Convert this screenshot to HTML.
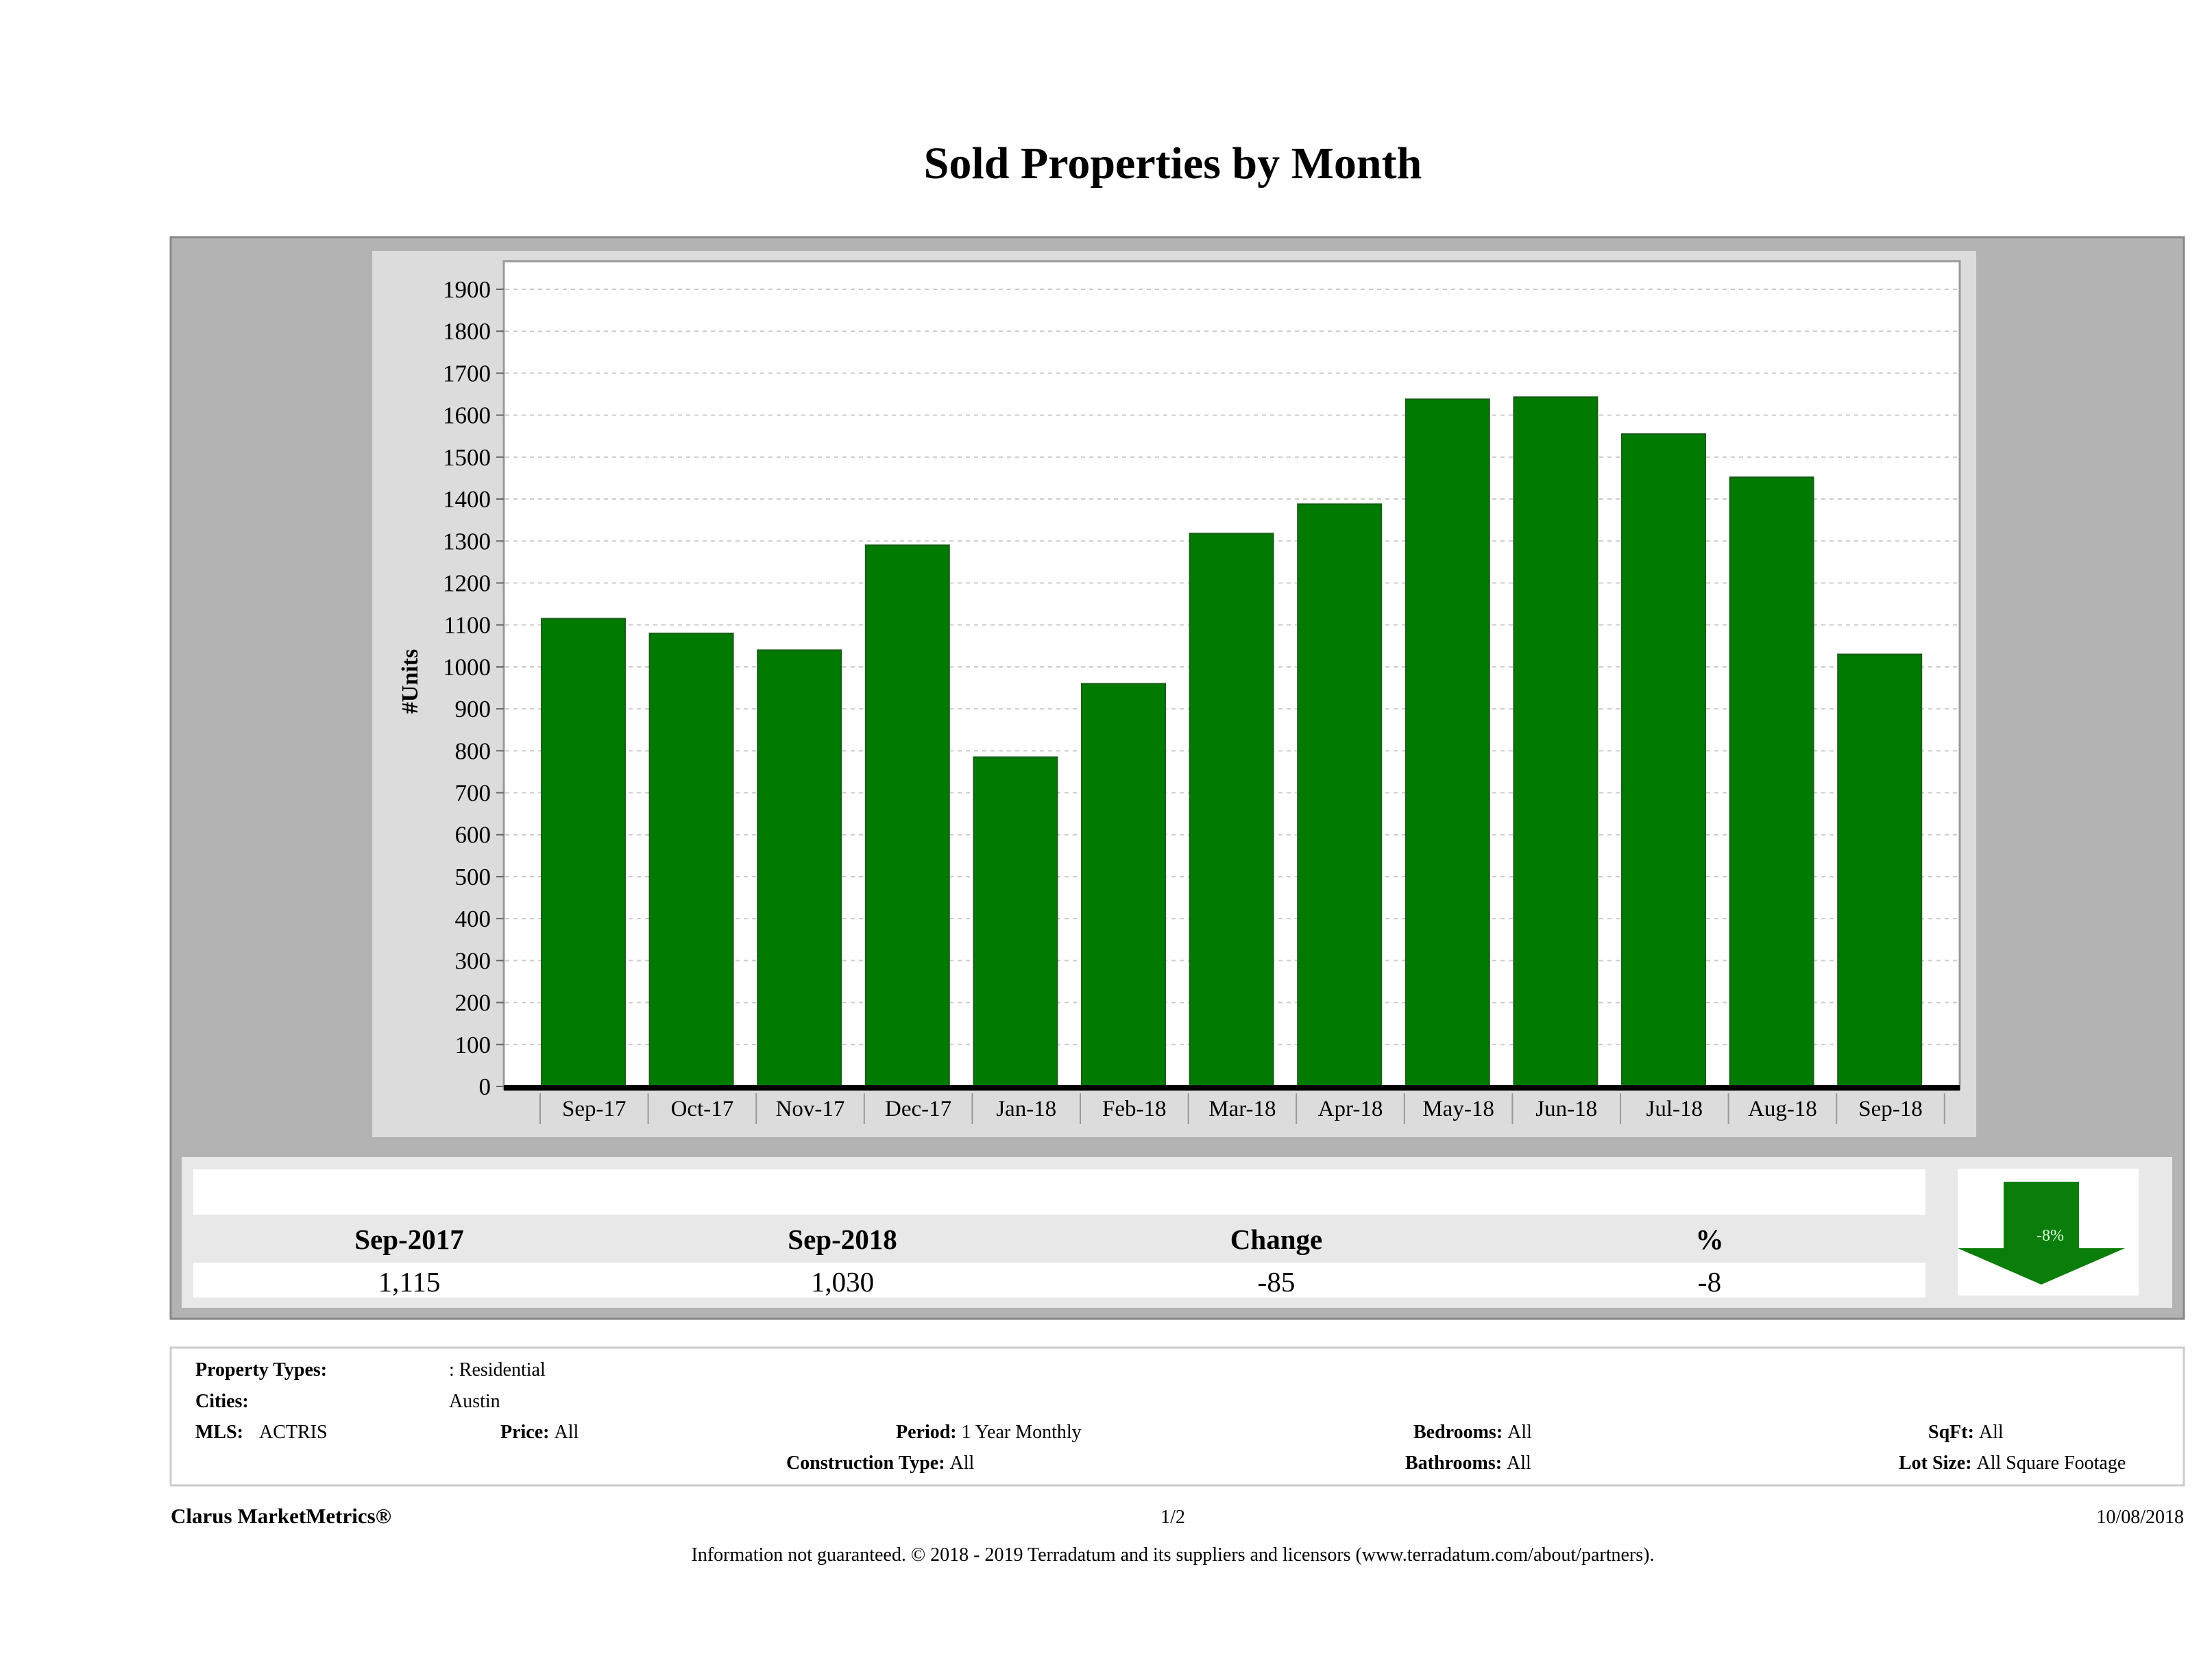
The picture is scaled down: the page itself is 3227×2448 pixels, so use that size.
<!DOCTYPE html>
<html><head><meta charset="utf-8"><style>
html,body{margin:0;padding:0;background:#fff;}
svg{display:block;font-family:"Liberation Serif",serif;}
</style></head><body>
<svg id="chart" width="3227" height="2448" viewBox="0 0 3227 2448" xmlns="http://www.w3.org/2000/svg">
<text x="1711" y="260" text-anchor="middle" font-size="66" font-weight="bold">Sold Properties by Month</text>
<rect x="249" y="346" width="2937" height="1578" fill="#b3b3b3" stroke="#888" stroke-width="3"/>
<rect x="543" y="366" width="2340" height="1293" fill="#dcdcdc"/>
<rect x="735" y="381" width="2124" height="1208" fill="#fff" stroke="#999" stroke-width="3"/>
<g id="grid"></g>
<g id="bars"></g>
<g id="xlabels"></g>
<text transform="translate(609,994) rotate(-90)" text-anchor="middle" font-size="34" font-weight="bold">#Units</text>

<rect x="265" y="1688" width="2904" height="220" fill="#e8e8e8"/>
<rect x="282" y="1706" width="2527" height="66" fill="#fff"/>
<rect x="282" y="1842" width="2527" height="51" fill="#fff"/>
<g font-size="41" text-anchor="middle">
<text x="597" y="1822" font-weight="bold">Sep-2017</text>
<text x="1229" y="1822" font-weight="bold">Sep-2018</text>
<text x="1862" y="1822" font-weight="bold">Change</text>
<text x="2494" y="1822" font-weight="bold">%</text>
<text x="597" y="1884">1,115</text>
<text x="1229" y="1884">1,030</text>
<text x="1862" y="1884">-85</text>
<text x="2494" y="1884">-8</text>
</g>
<rect x="2856" y="1705" width="264" height="185" fill="#fff"/>
<polygon points="2923,1724 3033,1724 3033,1821 3100,1821 2978,1874 2856,1821 2923,1821" transform="translate(0,0)" fill="#0a7d0a"/>
<text x="2991" y="1810" text-anchor="middle" font-size="24" fill="#ddffdd">-8%</text>

<rect x="249" y="1966" width="2937" height="201" fill="#fff" stroke="#ccc" stroke-width="3"/>
<g font-size="28">
<text x="285" y="2007" font-weight="bold">Property Types:</text>
<text x="655" y="2007">: Residential</text>
<text x="285" y="2053" font-weight="bold">Cities:</text>
<text x="655" y="2053">Austin</text>
<text x="285" y="2098" font-weight="bold">MLS:</text>
<text x="378" y="2098">ACTRIS</text>
<text x="730" y="2098" font-weight="bold">Price: <tspan font-weight="normal">All</tspan></text>
<text x="1307" y="2098" font-weight="bold">Period: <tspan font-weight="normal">1 Year Monthly</tspan></text>
<text x="1147" y="2143" font-weight="bold">Construction Type: <tspan font-weight="normal">All</tspan></text>
<text x="2062" y="2098" font-weight="bold">Bedrooms: <tspan font-weight="normal">All</tspan></text>
<text x="2050" y="2143" font-weight="bold">Bathrooms: <tspan font-weight="normal">All</tspan></text>
<text x="2813" y="2098" font-weight="bold">SqFt: <tspan font-weight="normal">All</tspan></text>
<text x="2770" y="2143" font-weight="bold">Lot Size: <tspan font-weight="normal">All Square Footage</tspan></text>
<text x="249" y="2222" font-size="31" font-weight="bold">Clarus MarketMetrics®</text>
<text x="1711" y="2222" text-anchor="middle">1/2</text>
<text x="3186" y="2222" text-anchor="end">10/08/2018</text>
<text x="1711" y="2277" text-anchor="middle">Information not guaranteed. © 2018 - 2019 Terradatum and its suppliers and licensors (www.terradatum.com/about/partners).</text>
</g>
</svg>
<script>
const categories=["Sep-17","Oct-17","Nov-17","Dec-17","Jan-18","Feb-18","Mar-18","Apr-18","May-18","Jun-18","Jul-18","Aug-18","Sep-18"];
const soldUnits=[1115,1080,1040,1290,785,960,1318,1388,1638,1643,1555,1452,1030];
const yTicks=[0,100,200,300,400,500,600,700,800,900,1000,1100,1200,1300,1400,1500,1600,1700,1800,1900];
const NS="http://www.w3.org/2000/svg";
const y0=1585,yTop=422,yMaxV=1900;
function yScale(v){return y0-(v/yMaxV)*(y0-yTop);}
const bandStart=788,band=157.6;
function xBand(i){return bandStart+i*band;}
function mk(tag,attrs,parent){const e=document.createElementNS(NS,tag);for(const k in attrs)e.setAttribute(k,attrs[k]);parent.appendChild(e);return e;}
const grid=document.getElementById('grid');
yTicks.forEach(v=>{
  const y=yScale(v);
  if(v>0){const l=mk('line',{x1:737,x2:2857,y1:y,y2:y,stroke:'#ccc','stroke-width':2,'stroke-dasharray':'6,6'},grid);
  
  }
  const t=mk('line',{x1:724,x2:735,y1:y,y2:y,stroke:'#666','stroke-width':2},grid);
  
  
  const tx=mk('text',{x:716,y:y+12,'text-anchor':'end','font-size':35},grid);
  tx.textContent=v;
  
  
});
const bars=document.getElementById('bars');
soldUnits.forEach((v,i)=>{
  const x=xBand(i)+2,y=yScale(v);
  const r=mk('rect',{x:x,y:y,width:122,height:y0-y,fill:'#007a00',stroke:'#1a5c1a','stroke-width':2},bars);
  
  
});
const base=mk('rect',{x:735,y:1583,width:2124,height:8,fill:'#000'},bars);


const xl=document.getElementById('xlabels');
categories.forEach((c,i)=>{
  const x=xBand(i);
  const t=mk('line',{x1:x,x2:x,y1:1595,y2:1640,stroke:'#999','stroke-width':2},xl);
  
  
  const tx=mk('text',{x:x+band/2,y:1628,'text-anchor':'middle','font-size':33},xl);
  tx.textContent=c;
  
  
});
const lastT=mk('line',{x1:xBand(categories.length),x2:xBand(categories.length),y1:1595,y2:1640,stroke:'#999','stroke-width':2},xl);


</script>
</body></html>
